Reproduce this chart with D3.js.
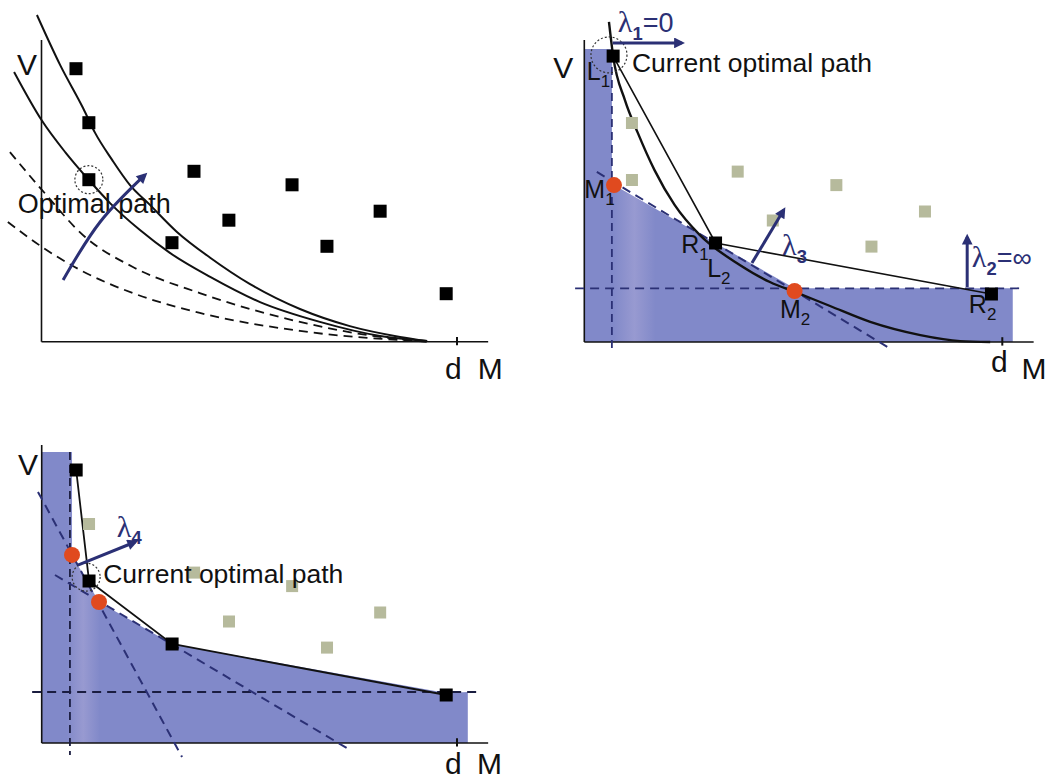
<!DOCTYPE html>
<html>
<head>
<meta charset="utf-8">
<script src="https://cdn.jsdelivr.net/npm/d3@7"></script>
<style>
  body { margin: 0; background: #fff; }
  text { font-family: "Liberation Sans", Arial, sans-serif; }
</style>
</head>
<body>
<svg id="fig" width="1050" height="782"></svg>
<script>
/*** DATA (M, V) ***/

// candidate paths, same set in every panel
const pathM = [8.3, 11.4, 11.4, 36.7, 31.4, 45.1, 60.3, 68.7, 81.5, 97.4];
const pathV = [91, 73, 54, 56.8, 33, 40.5, 52.3, 31.8, 43.5, 16];

// panel 1: iso-cost curves
const outerCurve = [[-1.1,108.9],[4.5,92.2],[10,77.9],[12.9,69.6],[17,60.6],[21.3,52.2],[26.1,45.6],
  [32.6,36.6],[40.6,28],[50.2,19.2],[62.2,10.9],[74.2,5.2],[86.3,1.6],[92.8,0.2]];
const innerCurve = [[-6.6,89.9],[0,73.9],[5.7,63.2],[11.4,53.9],[16.5,46.2],[23.7,37.2],[30.9,29.6],
  [40.6,21.6],[52.6,13.2],[67,6.6],[81.5,1.9],[92.8,0.2]];
const dashCurve1 = [[-7.6,63.2],[0.1,50.6],[10.5,34.9],[22,24.9],[38.1,16.2],[62.2,6.6],[81.5,1.6],[92.8,0]];
const dashCurve2 = [[-8.1,39.9],[0.1,31.6],[9.3,23.9],[22,16.2],[38.1,9.6],[62.2,3.6],[92.8,0]];
const p1Arrow = [[5.2,20.6],[14.1,39.9],[24.9,55.6]];

// panel 2
const p2Curve = [[5.9,106.7],[6.9,95.3],[9.7,80.7],[12.8,69.7],[16.8,57.3],[21.6,45.7],[27.6,35.7],
  [37.2,25.7],[44.4,20],[50.4,16.7],[58.8,12],[68.4,6.7],[80.4,2.3],[89.9,0.3],[97.1,0]];
const p2L1 = [6.9, 95.3];
const p2Black = [4, 9];
const p2Faded = [1, 2, 3, 5, 6, 7, 8];
const p2M = [[7.1, 52.3], [50.3, 17]];
const p2Diag = [[3, 56.7], [72.6, -1.7]];
const p2Shade = [[0,97.7],[6.6,97.7],[6.6,52.3],[7.1,52.3],[50.3,17.9],[102.5,17.9],[102.5,0],[0,0]];

// panel 3
const p3Black = [0, 2, 4, 9];
const p3Faded = [1, 3, 5, 6, 7, 8];
const p3M = [[7.3, 62.7], [13.8, 47]];
const p3Steep = [[-0.9, 83.7], [33.8, -4.7]];
const p3Shallow = [[3.2, 56], [73.5, -1.7]];
const p3Shade = [[0,97],[7.3,97],[7.3,62.7],[13.8,47],[31.4,33],[97.4,16.7],[102.6,17],[102.6,0],[0,0]];

/*** STYLE ***/
const navy = "#2b3075";
const shade = "#8189c9";
const faded = "#b6ba9c";
const redDot = "#e04a1f";

const svg = d3.select("#fig");
const defs = svg.append("defs");
defs.append("marker")
  .attr("id", "ah").attr("viewBox", "0 0 10 10")
  .attr("refX", 7).attr("refY", 5)
  .attr("markerWidth", 4.2).attr("markerHeight", 3.6)
  .attr("orient", "auto")
  .append("path").attr("d", "M0,0 L10,5 L0,10 z").attr("fill", navy);

const band = defs.append("linearGradient").attr("id", "band");
band.append("stop").attr("offset", "0%").attr("stop-color", "#f2dcef").attr("stop-opacity", 0);
band.append("stop").attr("offset", "50%").attr("stop-color", "#f2dcef").attr("stop-opacity", 0.2);
band.append("stop").attr("offset", "100%").attr("stop-color", "#f2dcef").attr("stop-opacity", 0);

function makePanel(xr, yr) {
  const p = {
    x: d3.scaleLinear().domain([0, 100]).range(xr),
    y: d3.scaleLinear().domain([0, 100]).range(yr),
    g: svg.append("g")
  };
  p.line = d3.line().x(d => p.x(d[0])).y(d => p.y(d[1]));
  return p;
}

// shaded feasible region plus the faint light band, clipped to it
function shadeRegion(p, id, poly, bandFrom, bandTo) {
  defs.append("clipPath").attr("id", id).append("path").attr("d", p.line(poly) + "Z");
  p.g.append("path").attr("d", p.line(poly) + "Z").attr("fill", shade);
  p.g.append("rect").attr("clip-path", "url(#" + id + ")")
    .attr("x", p.x(bandFrom)).attr("y", p.y(100))
    .attr("width", p.x(bandTo) - p.x(bandFrom)).attr("height", p.y(0) - p.y(100))
    .attr("fill", "url(#band)");
}

function axes(p, yTop) {
  p.g.append("line").attr("x1", p.x(0)).attr("x2", p.x(0))
    .attr("y1", p.y(0)).attr("y2", p.y(yTop)).attr("stroke", "#111").attr("stroke-width", 1.6);
  p.g.append("line").attr("x1", p.x(0)).attr("x2", p.x(107.5))
    .attr("y1", p.y(0)).attr("y2", p.y(0)).attr("stroke", "#111").attr("stroke-width", 1.6);
  p.g.append("line").attr("x1", p.x(100)).attr("x2", p.x(100))
    .attr("y1", p.y(1.6)).attr("y2", p.y(-1.2)).attr("stroke", "#111").attr("stroke-width", 2);
}

function axisLabels(p, vPos, dPos, mPos) {
  [["V", vPos], ["d", dPos], ["M", mPos]].forEach(([t, pos]) => {
    p.g.append("text").attr("x", p.x(pos[0])).attr("y", p.y(pos[1]))
      .attr("font-size", 30).attr("fill", "#111").text(t);
  });
}

function squares(p, idx, col, size) {
  p.g.selectAll(null).data(idx).enter().append("rect")
    .attr("x", i => p.x(pathM[i]) - size / 2)
    .attr("y", i => p.y(pathV[i]) - size / 2)
    .attr("width", size).attr("height", size)
    .attr("fill", col);
}

// parts: [text, kind] where kind is "sub", "greek" or nothing
function label(p, pos, parts, col, size) {
  const t = p.g.append("text").attr("x", p.x(pos[0])).attr("y", p.y(pos[1]))
    .attr("font-size", size).attr("fill", col);
  let shifted = false;
  parts.forEach(([s, kind]) => {
    const ts = t.append("tspan").text(s);
    if (kind === "sub") {
      ts.attr("font-size", size * 0.68).attr("dy", size * 0.28);
      if (col !== "#111") ts.attr("font-weight", "bold");
      shifted = true;
      return;
    }
    if (kind === "greek") ts.style("font-family", "Liberation Serif, serif").attr("font-size", size * 1.12);
    if (shifted) { ts.attr("dy", -size * 0.28); shifted = false; }
  });
}

function arrow(p, pts, curve) {
  const ln = d3.line().x(d => p.x(d[0])).y(d => p.y(d[1]));
  if (curve) ln.curve(d3.curveNatural);
  p.g.append("path").attr("d", ln(pts)).attr("fill", "none")
    .attr("stroke", navy).attr("stroke-width", 3).attr("marker-end", "url(#ah)");
}

function stroke(p, pts, col, w, dash, curve) {
  const ln = d3.line().x(d => p.x(d[0])).y(d => p.y(d[1]));
  if (curve) ln.curve(d3.curveMonotoneX);
  p.g.append("path").attr("d", ln(pts)).attr("fill", "none")
    .attr("stroke", col).attr("stroke-width", w).attr("stroke-dasharray", dash || null);
}

function ring(p, pos, r) {
  p.g.append("circle").attr("cx", p.x(pos[0])).attr("cy", p.y(pos[1])).attr("r", r)
    .attr("fill", "none").attr("stroke", "#333").attr("stroke-width", 1.2).attr("stroke-dasharray", "2,2");
}

function dots(p, pts) {
  p.g.selectAll(null).data(pts).enter().append("circle")
    .attr("cx", d => p.x(d[0])).attr("cy", d => p.y(d[1])).attr("r", 8).attr("fill", redDot);
}

/*** PANEL 1 ***/
const p1 = makePanel([41.5, 457], [341.7, 41.7]);
axes(p1, 100.6);
stroke(p1, dashCurve1, "#111", 1.8, "9,6", true);
stroke(p1, dashCurve2, "#111", 1.8, "9,6", true);
stroke(p1, outerCurve, "#111", 2, null, true);
stroke(p1, innerCurve, "#111", 2, null, true);
squares(p1, d3.range(pathM.length), "#000", 13);
ring(p1, [pathM[2], pathV[2]], 14);
label(p1, [-5.7, 42.9], [["Optimal path"]], "#111", 27);
arrow(p1, p1Arrow, true);
axisLabels(p1, [-5.9, 88.9], [97.1, -12.3], [105, -12.3]);

/*** PANEL 2 ***/
const p2 = makePanel([584.3, 1002.3], [342, 42]);
shadeRegion(p2, "clip2", p2Shade, 7, 17);
axes(p2, 100.7);
stroke(p2, [[6.6, 91.7], [6.6, -3.3]], navy, 1.8, "8,5");
stroke(p2, [[-2.2, 17.9], [105.4, 17.9]], navy, 1.8, "9,6");
stroke(p2, p2Diag, navy, 2, "9,6");
stroke(p2, p2Curve, "#111", 2.4, null, true);
stroke(p2, [p2L1, [pathM[4], pathV[4]], [pathM[9], pathV[9]]], "#111", 1.6);
squares(p2, p2Faded, faded, 12);
squares(p2, p2Black, "#000", 13);
p2.g.append("rect").attr("x", p2.x(p2L1[0]) - 6.5).attr("y", p2.y(p2L1[1]) - 6.5)
  .attr("width", 13).attr("height", 13).attr("fill", "#000");
dots(p2, p2M);
ring(p2, [5.9, 95.7], 18);
label(p2, [11.4, 90], [["Current optimal path"]], "#111", 26.5);
label(p2, [0.6, 87.3], [["L"], ["1", "sub"]], "#111", 25);
label(p2, [0, 48], [["M"], ["1", "sub"]], "#111", 25);
label(p2, [23.2, 29.7], [["R"], ["1", "sub"]], "#111", 25);
label(p2, [29.4, 21.7], [["L"], ["2", "sub"]], "#111", 25);
label(p2, [46.8, 8], [["M"], ["2", "sub"]], "#111", 25);
label(p2, [92, 9.7], [["R"], ["2", "sub"]], "#111", 25);
label(p2, [8, 103.3], [["λ", "greek"], ["1", "sub"], ["=0"]], navy, 27);
label(p2, [47.3, 29], [["λ", "greek"], ["3", "sub"]], navy, 27);
label(p2, [92.7, 25], [["λ", "greek"], ["2", "sub"], ["=∞"]], navy, 27);
arrow(p2, [[6.8, 99.7], [23.3, 99.7]]);
arrow(p2, [[40.1, 26.3], [47.7, 44]]);
arrow(p2, [[91.6, 18.3], [91.6, 35]]);
axisLabels(p2, [-7.4, 88], [97.3, -10], [104.6, -12.3]);

/*** PANEL 3 ***/
const p3 = makePanel([41.7, 457], [743, 443]);
shadeRegion(p3, "clip3", p3Shade, 6, 14);
axes(p3, 99.3);
stroke(p3, [[6.8, 97], [6.8, -4]], "#1a1d40", 1.8, "8,5");
stroke(p3, [[-2.3, 17], [104.8, 17]], "#1a1d40", 1.8, "9,6");
stroke(p3, p3Steep, navy, 2, "9,6");
stroke(p3, p3Shallow, navy, 2, "9,6");
stroke(p3, p3Black.map(i => [pathM[i], pathV[i]]), "#111", 1.8);
squares(p3, p3Faded, faded, 12);
squares(p3, p3Black, "#000", 13);
dots(p3, p3M);
ring(p3, [10.7, 55.3], 14);
label(p3, [14.8, 53.3], [["Current optimal path"]], "#111", 26.5);
label(p3, [18.1, 68.7], [["λ", "greek"], ["4", "sub"]], navy, 27);
arrow(p3, [[8.7, 59.3], [22.5, 67]]);
axisLabels(p3, [-5.7, 89.3], [97.1, -10.3], [104.8, -10.3]);
</script>
</body>
</html>
